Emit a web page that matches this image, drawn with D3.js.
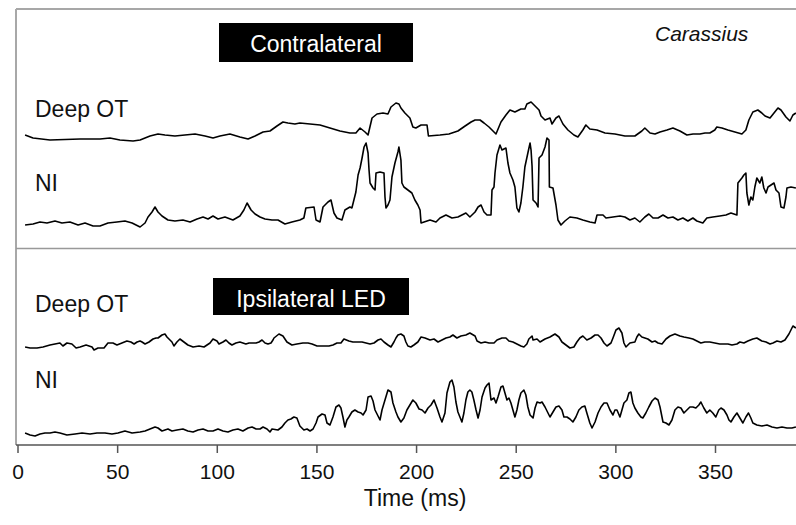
<!DOCTYPE html>
<html>
<head>
<meta charset="utf-8">
<script src="https://cdn.jsdelivr.net/npm/d3@7"></script>
<style>
  html, body { margin: 0; padding: 0; background: #fff; }
  svg { display: block; }
  text { font-family: "Liberation Sans", Arial, sans-serif; }
</style>
</head>
<body>
<svg id="chart" width="796" height="525"></svg>
<script>
// Recording traces: [time (ms), amplitude (a.u., relative to each trace's resting level)]
const contraDeepOT = [
  [3.8,5],[7.8,2],[16.3,0],[31.4,1],[41.4,1],[46.4,2],[51.4,0],[58.0,-1],[61.5,0],[66.5,4],
  [70.5,6],[74.0,5],[79.0,4],[84.0,5],[89.1,6],[94.1,4],[98.1,2],[101.6,4],[106.6,6],[111.6,3],
  [115.7,1],[119.2,4],[123.2,8],[126.7,9],[130.2,14],[133.2,18],[135.7,17],[139.2,16],[141.7,17],
  [146.8,16],[151.8,15],[156.8,12],[161.8,9],[166.8,7],[169.8,7],[171.9,12],[174.4,8],[175.9,5],
  [177.9,22],[180.4,26],[183.4,27],[185.9,26],[187.4,33],[189.9,37],[191.4,36],[192.4,32],
  [194.4,27],[196.9,22],[198.4,13],[199.9,12],[202.5,15],[205.5,15],[206.2,4],[212.0,5],
  [216.5,6],[221.0,9],[224.6,14],[227.6,18],[229.6,20],[232.1,20],[234.1,17],[236.6,13],
  [239.1,8],[240.1,6],[242.6,18],[245.1,25],[247.1,30],[249.6,28],[252.6,31],[254.6,31],
  [255.6,36],[257.7,38],[259.7,34],[261.7,30],[262.7,24],[264.7,20],[267.2,22],[268.2,16],
  [270.2,22],[271.7,24],[273.7,16],[276.2,10],[279.2,5],[281.2,3],[283.7,10],[285.2,15],
  [287.2,11],[290.8,10],[294.8,7],[299.8,6],[304.8,4],[309.8,4],[313.3,9],[314.8,12],[317.4,7],
  [319.9,6],[322.4,8],[325.9,10],[328.9,12],[332.4,9],[335.9,5],[339.0,6],[342.4,6],[345.0,7],
  [347.4,7],[349.9,10],[350.9,13],[353.5,12],[356.5,10],[360.0,8],[363.5,6],[365.5,10],
  [367.0,20],[369.0,28],[371.5,30],[373.5,27],[375.1,24],[377.6,22],[379.6,27],[381.6,32],
  [383.1,30],[385.6,23],[387.6,19],[389.1,25],[390.6,27]
];

const contraNI = [
  [3.8,1],[7.8,2],[11.3,4],[14.8,3],[18.8,5],[22.3,3],[26.3,4],[30.4,1],[33.9,3],[37.9,0],
  [41.4,0],[45.4,3],[49.9,4],[53.9,5],[57.5,3],[61.5,-1],[64.0,3],[65.5,9],[67.5,14],[69.0,19],
  [70.5,14],[72.5,10],[75.5,6],[79.0,5],[83.0,6],[86.6,4],[90.1,7],[93.1,9],[95.6,7],[98.1,10],
  [100.6,7],[104.1,9],[108.1,6],[111.6,10],[113.6,16],[115.2,23],[117.2,16],[119.2,12],
  [121.7,9],[124.2,7],[127.7,6],[130.7,6],[134.2,2],[137.7,4],[141.7,6],[143.7,8],[144.7,18],
  [148.8,19],[149.8,6],[151.8,4],[153.3,19],[155.8,24],[157.3,26],[158.8,13],[160.3,8],
  [162.8,6],[164.3,16],[166.8,19],[167.8,18],[168.8,26],[169.8,34],[170.9,51],[171.9,58],
  [172.9,68],[173.9,79],[174.9,83],[175.9,73],[176.4,56],[176.9,43],[178.4,38],[179.4,36],
  [179.9,53],[181.9,54],[183.9,53],[184.4,29],[184.9,18],[185.9,21],[186.9,26],[187.9,49],
  [189.4,63],[190.9,74],[191.4,79],[192.4,66],[192.9,43],[193.9,39],[195.9,36],[197.9,33],
  [199.4,26],[200.9,21],[202.0,16],[202.5,3],[204.0,4],[207.0,6],[210.0,4],[212.0,8],
  [215.0,11],[218.0,8],[221.0,9],[223.0,11],[225.0,13],[227.0,9],[229.6,14],[231.1,19],
  [232.6,21],[234.1,14],[235.6,11],[237.6,11],[238.1,36],[239.1,39],[239.6,53],[240.6,71],
  [242.1,81],[243.1,76],[245.1,78],[246.1,63],[247.1,53],[248.6,46],[249.6,39],[250.6,18],
  [251.6,14],[252.6,23],[253.6,39],[254.6,59],[256.1,73],[257.2,83],[257.7,76],[258.2,60],
  [258.7,26],[260.2,23],[261.2,19],[261.7,68],[263.2,71],[264.7,79],[265.7,88],[266.7,86],
  [266.9,39],[268.7,38],[270.2,21],[271.2,6],[272.7,1],[274.7,5],[277.2,9],[280.7,8],
  [283.7,6],[287.2,4],[289.8,3],[290.8,11],[293.8,11],[295.3,8],[298.8,9],[302.3,10],
  [304.8,9],[307.3,6],[309.8,8],[312.3,4],[314.8,9],[316.8,12],[318.9,8],[321.4,8],[323.9,11],
  [326.4,8],[328.9,9],[331.4,6],[333.9,8],[336.4,5],[338.9,8],[340.9,5],[343.9,3],[345.9,8],
  [348.9,9],[352.4,10],[355.5,11],[358.0,13],[361.0,11],[361.5,43],[363.5,48],[364.5,51],
  [365.5,53],[366.0,33],[367.0,21],[368.0,29],[369.0,26],[370.0,39],[371.0,48],[372.5,43],
  [373.5,49],[374.5,38],[375.6,33],[376.6,39],[378.1,41],[379.6,43],[380.6,36],[382.1,33],
  [383.1,19],[384.6,18],[385.6,29],[386.1,38],[388.1,39],[390.6,38]
];

const ipsiDeepOT = [
  [3.8,3],[6.3,2],[9.8,2],[12.8,3],[16.3,5],[18.8,6],[21.3,7],[22.8,4],[24.8,7],[27.3,6],
  [29.4,2],[31.4,3],[34.4,5],[37.4,3],[38.4,0],[40.4,2],[43.4,2],[45.4,7],[47.9,7],[49.9,5],
  [52.4,7],[54.9,9],[56.9,8],[58.5,6],[60.0,8],[61.5,9],[62.5,8],[64.0,6],[66.0,8],[68.0,11],
  [69.5,12],[70.5,12],[72.5,15],[74.0,16],[75.0,13],[76.5,10],[77.5,8],[78.5,4],[80.0,8],
  [81.5,11],[83.5,8],[85.5,5],[88.1,3],[91.1,4],[93.6,3],[95.1,5],[96.6,7],[98.1,11],
  [100.1,9],[101.1,6],[103.1,8],[104.6,10],[106.1,7],[107.6,5],[109.6,7],[111.6,8],[113.1,7],
  [114.6,6],[116.2,7],[118.2,7],[119.7,7],[121.2,8],[122.7,10],[124.2,7],[125.7,6],[127.2,7],
  [128.2,10],[128.7,12],[131.2,16],[133.2,14],[135.2,8],[137.7,5],[140.2,6],[143.2,7],
  [145.8,7],[147.8,6],[150.3,4],[153.3,4],[156.3,4],[158.3,5],[160.3,7],[162.3,7],[163.8,11],
  [166.3,9],[168.3,8],[170.3,8],[172.9,8],[174.9,7],[176.9,6],[178.9,7],[180.9,10],[182.4,11],
  [183.9,8],[185.9,5],[187.4,3],[188.9,8],[189.9,12],[190.9,15],[192.4,16],[193.9,14],
  [194.9,8],[195.9,4],[197.4,3],[198.9,5],[200.9,8],[202.5,13],[204.5,12],[207.0,10],
  [209.0,11],[211.0,8],[213.0,10],[215.0,12],[217.0,13],[218.5,15],[220.5,12],[222.5,14],
  [225.0,15],[227.0,17],[229.6,14],[230.6,9],[232.6,7],[234.6,8],[236.6,7],[239.1,7],
  [240.6,10],[243.1,12],[245.1,12],[246.6,9],[248.6,8],[250.6,6],[252.6,4],[254.1,3],
  [255.6,6],[256.6,11],[258.2,14],[258.7,10],[260.7,11],[262.2,8],[264.7,11],[267.2,13],
  [269.7,16],[271.7,13],[273.2,8],[275.2,5],[277.2,2],[279.2,3],[280.7,8],[282.2,12],
  [283.7,14],[285.7,10],[287.8,12],[289.8,15],[291.3,15],[292.8,12],[294.3,7],[295.8,4],
  [297.8,7],[298.8,12],[300.3,20],[301.8,22],[303.3,17],[304.3,7],[305.3,3],[307.3,7],
  [309.8,8],[310.8,13],[311.8,16],[313.3,13],[314.8,12],[316.3,11],[318.4,8],[319.9,9],
  [321.4,7],[323.4,6],[325.4,11],[327.4,14],[329.9,16],[332.4,14],[334.4,13],[336.9,12],
  [338.9,11],[340.9,9],[342.9,7],[344.9,8],[347.4,8],[349.9,7],[352.4,6],[354.5,6],[356.5,6],
  [358.5,5],[361.0,6],[362.5,8],[364.5,7],[366.5,9],[369.0,11],[371.0,12],[373.5,9],
  [375.6,8],[377.6,6],[379.1,7],[381.1,9],[383.1,8],[385.1,10],[386.1,13],[387.1,16],
  [388.1,20],[389.1,24],[390.6,22]
];

const ipsiNI = [
  [3.8,3],[6.3,1],[8.8,0],[11.3,2],[13.8,3],[16.3,3],[18.8,4],[21.3,3],[24.8,1],[28.9,2],
  [32.4,3],[36.4,2],[39.9,3],[43.9,3],[47.4,2],[50.4,3],[53.9,5],[57.5,3],[61.5,4],[64.0,5],
  [66.5,7],[69.0,9],[70.5,8],[72.5,5],[75.5,7],[77.5,5],[80.0,6],[83.0,7],[85.5,5],[88.1,4],
  [90.6,6],[93.1,7],[95.6,5],[98.1,5],[100.6,7],[103.1,5],[105.6,4],[108.1,6],[110.6,7],
  [113.1,5],[115.7,8],[117.7,9],[119.7,7],[121.7,7],[123.2,9],[125.2,7],[126.7,4],[127.7,7],
  [130.7,6],[132.7,9],[134.2,13],[135.7,16],[137.2,17],[138.7,19],[140.2,18],[141.7,10],
  [143.7,6],[145.3,7],[146.8,5],[148.3,7],[149.8,13],[150.8,19],[152.8,22],[154.3,21],
  [155.3,13],[156.8,11],[158.3,19],[159.8,29],[161.3,31],[162.3,28],[163.3,19],[164.3,9],
  [165.3,16],[166.3,19],[167.8,24],[169.3,26],[170.9,24],[172.4,23],[173.4,21],[174.9,26],
  [175.9,39],[177.4,40],[178.4,35],[179.4,26],[180.9,20],[181.9,16],[182.9,26],[184.4,36],
  [185.9,46],[187.4,44],[188.4,33],[189.9,24],[190.9,19],[192.4,14],[193.9,18],[195.4,26],
  [196.9,31],[198.4,36],[199.9,33],[201.5,27],[203.0,26],[204.5,23],[206.0,28],[207.5,31],
  [209.0,36],[210.5,28],[212.0,19],[213.0,14],[214.5,23],[215.5,43],[217.0,54],[218.0,56],
  [219.0,49],[220.0,34],[221.0,24],[222.0,19],[223.0,14],[224.0,23],[225.0,36],[226.0,44],
  [227.0,46],[228.0,44],[229.0,36],[230.1,26],[231.1,18],[232.1,26],[233.1,39],[234.6,48],
  [235.6,51],[236.6,53],[237.6,36],[239.1,38],[240.1,33],[241.1,39],[242.6,49],[243.6,50],
  [244.6,43],[245.6,36],[246.6,38],[247.6,33],[248.6,26],[249.6,19],[250.6,26],[251.6,36],
  [252.6,43],[254.1,46],[255.1,41],[256.1,29],[257.2,21],[258.2,19],[258.7,18],[259.7,28],
  [260.7,34],[262.2,33],[263.2,34],[264.7,29],[266.2,23],[267.2,19],[268.7,24],[270.2,29],
  [271.7,30],[273.2,26],[274.2,19],[275.7,19],[277.2,17],[278.7,14],[280.2,19],[281.7,26],
  [283.2,29],[284.7,30],[285.7,23],[287.2,13],[288.3,8],[289.8,14],[291.3,23],[292.8,29],
  [294.3,33],[295.8,33],[297.3,26],[298.8,21],[299.8,26],[300.8,26],[302.3,19],[303.3,26],
  [304.3,33],[305.8,36],[306.8,43],[307.8,44],[308.8,33],[309.8,28],[311.3,23],[312.8,19],
  [313.8,18],[315.3,23],[316.8,29],[318.4,35],[319.9,38],[321.4,36],[322.4,29],[323.9,14],
  [325.4,13],[326.9,11],[328.4,16],[329.9,26],[331.4,29],[332.9,28],[334.4,23],[335.9,26],
  [337.4,29],[338.9,29],[340.4,28],[341.9,31],[342.9,34],[344.4,28],[345.9,23],[347.4,26],
  [348.9,23],[350.4,19],[351.9,26],[353.0,28],[354.5,26],[356.0,21],[357.0,16],[358.0,14],
  [359.5,19],[361.0,23],[362.5,18],[364.0,13],[365.5,19],[366.8,23],[368.0,18],[369.0,13],
  [371.0,11],[373.5,10],[376.1,11],[378.6,9],[381.1,8],[383.6,9],[386.1,8],[388.6,8],[390.6,9]
];

const panelTitles = ["Contralateral", "Ipsilateral LED"];
const traceLabels = ["Deep OT", "NI"];
const speciesLabel = "Carassius";
const timeTicks = [0, 50, 100, 150, 200, 250, 300, 350];
const axisTitle = "Time (ms)";

// ---- layout ----
const svg = d3.select("#chart");
const W = 796, H = 525;
const frameLeft = 16, frameTop = 9, panelSplit = 248.5, axisY = 445;

const x = d3.scaleLinear().domain([0, 350]).range([17.5, 715]);

// one amplitude scale per trace, each anchored at its resting level
const rows = [
  { data: contraDeepOT, base: 140, label: traceLabels[0], labelY: 117 },
  { data: contraNI,     base: 226, label: traceLabels[1], labelY: 191 },
  { data: ipsiDeepOT,   base: 350, label: traceLabels[0], labelY: 312 },
  { data: ipsiNI,       base: 436, label: traceLabels[1], labelY: 388 }
];

// frame: top edge, left edge, panel divider
svg.append("line")
  .attr("x1", frameLeft).attr("x2", W).attr("y1", frameTop).attr("y2", frameTop)
  .attr("stroke", "#8a8a8a").attr("stroke-width", 1.6);
svg.append("line")
  .attr("x1", frameLeft).attr("x2", frameLeft).attr("y1", frameTop).attr("y2", axisY)
  .attr("stroke", "#a8a8a8").attr("stroke-width", 2);
svg.append("line")
  .attr("x1", frameLeft).attr("x2", W).attr("y1", panelSplit).attr("y2", panelSplit)
  .attr("stroke", "#999").attr("stroke-width", 1.6);

// traces
const traces = svg.append("g").attr("class", "traces");
rows.forEach(r => {
  const y = d3.scaleLinear().domain([0, 100]).range([r.base, r.base - 100]);
  const line = d3.line().x(d => x(d[0])).y(d => y(d[1])).curve(d3.curveLinear);
  traces.append("path")
    .datum(r.data)
    .attr("d", line)
    .attr("fill", "none")
    .attr("stroke", "#000")
    .attr("stroke-width", 1.6)
    .attr("stroke-linejoin", "round");
  svg.append("text")
    .attr("x", 35).attr("y", r.labelY)
    .attr("font-size", 23).attr("fill", "#111")
    .text(r.label);
});

// stimulus tags
const tags = [
  { text: panelTitles[0], x0: 219, x1: 413, y0: 23, y1: 62, ty: 52 },
  { text: panelTitles[1], x0: 213, x1: 409, y0: 278, y1: 315, ty: 307 }
];
tags.forEach(t => {
  svg.append("rect")
    .attr("x", t.x0).attr("y", t.y0)
    .attr("width", t.x1 - t.x0).attr("height", t.y1 - t.y0)
    .attr("fill", "#000");
  svg.append("text")
    .attr("x", (t.x0 + t.x1) / 2).attr("y", t.ty)
    .attr("text-anchor", "middle")
    .attr("font-size", 23).attr("fill", "#fff")
    .text(t.text);
});

svg.append("text")
  .attr("x", 655).attr("y", 41)
  .attr("font-size", 21).attr("font-style", "italic").attr("fill", "#111")
  .text(speciesLabel);

// time axis
const axis = d3.axisBottom(x)
  .tickValues(timeTicks)
  .tickSize(8)
  .tickPadding(11)
  .tickFormat(d3.format("d"));
const ax = svg.append("g")
  .attr("transform", `translate(0,${axisY})`)
  .call(axis);
ax.select(".domain").remove();
ax.selectAll(".tick line").attr("stroke", "#555").attr("stroke-width", 1.5);
ax.selectAll(".tick text")
  .attr("font-size", 21)
  .attr("fill", "#111")
  .attr("font-family", "Liberation Sans, Arial, sans-serif");
svg.append("line")
  .attr("x1", frameLeft).attr("x2", W).attr("y1", axisY).attr("y2", axisY)
  .attr("stroke", "#555").attr("stroke-width", 1.5);

svg.append("text")
  .attr("x", 415).attr("y", 506)
  .attr("text-anchor", "middle")
  .attr("font-size", 23).attr("fill", "#111")
  .text(axisTitle);
</script>
</body>
</html>
